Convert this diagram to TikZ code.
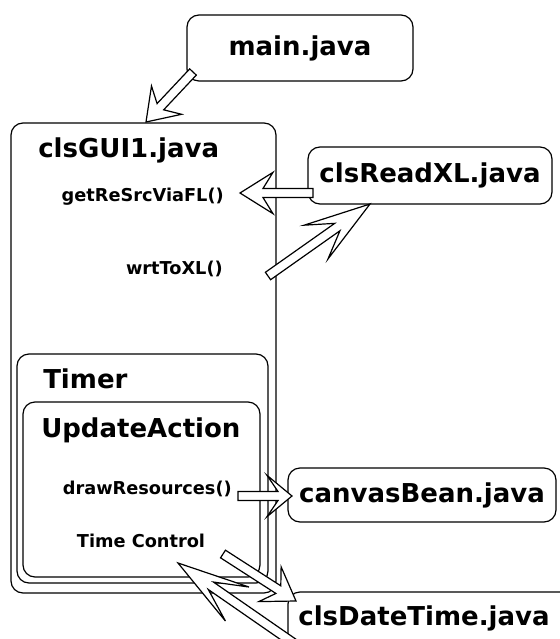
\documentclass[tikz,border=0pt]{standalone}
\usepackage{fontspec}
\setmainfont{DejaVu Sans}
\usepackage{tikz}
\usetikzlibrary{calc}

\tikzset{
    roundbox/.style={draw, line width=0.9pt, rounded corners=9pt},
    classbox/.style={roundbox, inner sep=0pt, font=\fontsize{19.5}{23}\selectfont\bfseries},
    title/.style={inner sep=0pt, font=\fontsize{19.5}{23}\selectfont\bfseries},
    method/.style={inner sep=0pt, font=\fontsize{13.3}{16}\selectfont\bfseries},
    hollow/.style={draw, fill=white, line width=0.9pt, line join=miter}
}

% #1 tail, #2 tip, #3 barb length, #4 notch length
\newcommand{\hollowarrow}[4]{%
    \draw[hollow] (#2) -- ($(#2)!#3!(#1)!15.5pt!90:(#1)$) -- ($(#2)!#4!(#1)!3.4pt!90:(#1)$)
        -- ($(#1)!3.4pt!-90:(#2)$) -- ($(#1)!3.4pt!90:(#2)$)
        -- ($(#2)!#4!(#1)!3.4pt!-90:(#1)$) -- ($(#2)!#3!(#1)!15.5pt!-90:(#1)$) -- cycle;}

\begin{document}
\begin{tikzpicture}[x=0.75pt,y=-0.75pt]
    \useasboundingbox (0,0) rectangle (560,639);
    \clip (0,0) rectangle (560,639);

    % clsGUI1, Timer, UpdateAction
    \foreach \l/\t/\r/\b in {11/123/276/593, 17/354/268/583, 23/402/260/577}
    \draw[roundbox] (\l,\t) rectangle (\r,\b);
    \draw[roundbox] (288,592) rectangle (575,700);

    \node[classbox, minimum width=169.5pt, minimum height=49.5pt] (main) at (300,48) {main.java};
    \node[classbox, minimum width=183pt, minimum height=42.75pt] (readxl) at (430,175.5) {clsReadXL.java};
    \node[classbox, minimum width=201pt, minimum height=40.5pt] (canvas) at (422,495) {canvasBean.java};
    \node[title, anchor=base] (datetime) at (424,625) {clsDateTime.java};

    \node[title, anchor=base west] (gui) at (38,157) {clsGUI1.java};
    \node[title, anchor=base west] (timer) at (43,388) {Timer};
    \node[title, anchor=base west] (update) at (41,437) {UpdateAction};

    \node[method, anchor=base east] (getres) at (224,201) {getReSrcViaFL()};
    \node[method, anchor=base east] (wrt) at (223,274) {wrtToXL()};
    \node[method, anchor=base east] (drawres) at (232,494) {drawResources()};
    \node[method, anchor=base] (timectl) at (141,547) {Time Control};

    \coordinate (main-out) at (193,72);
    \coordinate (gui-in) at (146,122);
    \coordinate (readxl-out) at (313,193);
    \coordinate (getres-in) at (240,193);
    \coordinate (wrt-out) at (268,276);
    \coordinate (readxl-in) at (370,204);
    \coordinate (drawres-out) at (238,496);
    \coordinate (canvas-in) at (292,496);
    \coordinate (datetime-out) at (318,660);
    \coordinate (timectl-in) at (178,563);
    \coordinate (timectl-out) at (223,554);
    \coordinate (datetime-in) at (296,601);

    \foreach \s/\e/\bb/\nb in {main-out/gui-in/22.5pt/15.75pt,
        readxl-out/getres-in/24.75pt/17.25pt,
        wrt-out/readxl-in/49.5pt/30pt,
        drawres-out/canvas-in/18.75pt/10.5pt,
        datetime-out/timectl-in/54pt/30pt,
        timectl-out/datetime-in/23.25pt/15.75pt}
    \hollowarrow{\s}{\e}{\bb}{\nb};
\end{tikzpicture}
\end{document}
